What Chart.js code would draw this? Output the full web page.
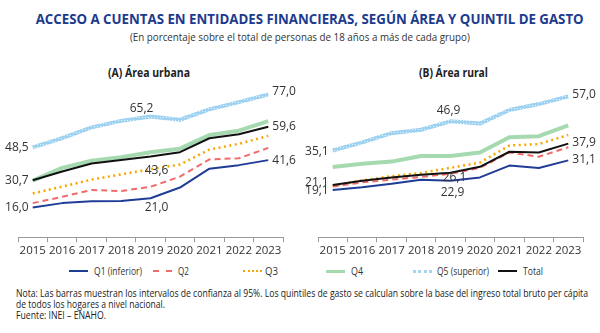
<!DOCTYPE html>
<html>
<head>
<meta charset="utf-8">
<script src="https://cdn.jsdelivr.net/npm/chart.js@4"></script>
<style>
  body { margin: 0; background: #fff; font-family: "Open Sans", sans-serif; color: #333; }
  #page { position: relative; width: 600px; height: 333px; overflow: hidden; }
  .t { position: absolute; white-space: nowrap; }
  #title { top: 8px; left: 0; width: 600px; text-align: center; font-weight: bold; font-size: 15px; color: #1c3a8e; }
  #sub { top: 29px; left: 0; width: 600px; text-align: center; font-size: 11px; color: #333; }
  .panel { top: 64px; font-weight: bold; font-size: 12px; color: #222; text-align: center; }
  .chartbox { position: absolute; top: 80px; width: 300px; height: 180px; }
  .lg { position: absolute; top: 263px; font-size: 11px; line-height: 16px; color: #333; }
  .sw { position: absolute; top: 270px; width: 19px; }
  .note { left: 16px; font-size: 11px; line-height: 14px; color: #222; }
</style>
</head>
<body>
<div id="page">
  <div class="t fit" id="title" data-w="548">ACCESO A CUENTAS EN ENTIDADES FINANCIERAS, SEGÚN ÁREA Y QUINTIL DE GASTO</div>
  <div class="t fit" id="sub" data-w="340">(En porcentaje sobre el total de personas de 18 años a más de cada grupo)</div>
  <div class="t panel fit" data-w="82" style="left:108px">(A) Área urbana</div>
  <div class="t panel fit" data-w="69" style="left:419px">(B) Área rural</div>
  <div class="chartbox" style="left:0"><canvas id="urbana"></canvas></div>
  <div class="chartbox" style="left:300px"><canvas id="rural"></canvas></div>

  <div class="sw" style="left:69px;border-top:2px solid #1f3d96"></div><div class="t lg fit" data-w="48" style="left:94px">Q1 (inferior)</div>
  <div class="sw" style="left:153px;border-top:2px dashed #f26b6b"></div><div class="t lg fit" data-w="11" style="left:178px">Q2</div>
  <div class="sw" style="left:243px;border-top:2px dotted #f7a800"></div><div class="t lg fit" data-w="13" style="left:265px">Q3</div>
  <div class="sw" style="left:326px;border-top:3px solid #a5d9b0"></div><div class="t lg fit" data-w="12" style="left:351px">Q4</div>
  <div class="sw" style="left:413px;border-top:3px dotted #a6d5f2"></div><div class="t lg fit" data-w="52" style="left:437px">Q5 (superior)</div>
  <div class="sw" style="left:498px;border-top:2px solid #111"></div><div class="t lg fit" data-w="20" style="left:523px">Total</div>

  <div class="t note fit" data-w="572" style="top:286px">Nota: Las barras muestran los intervalos de confianza al 95%. Los quintiles de gasto se calculan sobre la base del ingreso total bruto per cápita</div>
  <div class="t note fit" data-w="149" style="top:297px">de todos los hogares a nivel nacional.</div>
  <div class="t note fit" data-w="90" style="top:308px">Fuente: INEI – ENAHO.</div>
</div>
<script>
// datos
var years = ['2015', '2016', '2017', '2018', '2019', '2020', '2021', '2022', '2023'];

var urbQ1 = [16.0, 18.4, 19.4, 19.5, 21.0, 26.8, 37.0, 38.9, 41.6];
var urbQ2 = [18.4, 21.8, 25.5, 24.9, 27.2, 32.7, 42.0, 42.6, 48.2];
var urbQ3 = [23.6, 27.3, 31.1, 33.9, 36.7, 39.2, 47.3, 50.4, 54.7];
var urbQ4 = [30.5, 37.4, 41.3, 43.2, 45.9, 47.8, 55.2, 57.5, 62.7];
var urbQ5 = [48.5, 53.5, 59.3, 62.8, 65.2, 63.4, 69.0, 72.9, 77.0];
var urbTot = [30.7, 35.5, 39.8, 41.7, 43.6, 45.9, 53.4, 55.6, 59.6];

var rurQ1 = [19.1, 20.2, 21.6, 23.3, 22.9, 24.2, 29.0, 28.0, 31.1];
var rurQ2 = [20.5, 22.2, 23.3, 24.4, 25.7, 28.1, 34.3, 32.6, 36.4];
var rurQ3 = [20.8, 23.0, 24.7, 26.0, 28.1, 30.2, 37.1, 37.7, 41.4];
var rurQ4 = [28.4, 29.7, 30.6, 32.9, 32.9, 34.3, 40.5, 40.9, 45.3];
var rurQ5 = [35.1, 38.4, 42.1, 43.5, 46.9, 46.0, 51.5, 53.9, 57.0];
var rurTot = [21.1, 22.9, 24.2, 25.3, 26.1, 28.5, 34.6, 34.3, 37.9];

// ajustar ancho de textos (fuente original es condensada)
document.querySelectorAll('.fit').forEach(function (el) {
    var w = +el.dataset.w;
    var span = document.createElement('span');
    span.textContent = el.textContent;
    el.textContent = '';
    el.appendChild(span);
    span.style.display = 'inline-block';
    var real = span.getBoundingClientRect().width;
    span.style.transform = 'scaleX(' + (w / real) + ')';
    span.style.transformOrigin = (el.id === 'title' || el.id === 'sub') ? 'center' : 'left';
});

// patrón para Q5
function q5Pattern() {
    var c = document.createElement('canvas');
    c.width = 3; c.height = 3;
    var g = c.getContext('2d');
    g.fillStyle = '#9fd2f0';
    g.fillRect(0, 0, 3, 3);
    g.fillStyle = '#e6f4fc';
    g.fillRect(1, 1, 1, 1);
    return g.createPattern(c, 'repeat');
}

function fmt(v) { return v.toFixed(1).replace('.', ','); }

// etiquetas de valores
var valueLabels = {
    id: 'valueLabels',
    afterDatasetsDraw: function (chart, args, opts) {
        var ctx = chart.ctx;
        ctx.save();
        ctx.font = '12px "Open Sans"';
        ctx.fillStyle = '#333';
        ctx.textBaseline = 'middle';
        opts.items.forEach(function (it) {
            var pt = chart.getDatasetMeta(it.ds).data[it.i];
            var v = chart.data.datasets[it.ds].data[it.i];
            ctx.textAlign = it.pos === 'left' ? 'right' : it.pos === 'right' ? 'left' : 'center';
            var x = pt.x, y = pt.y;
            if (it.pos === 'left') x -= 4;
            if (it.pos === 'right') x += 4;
            ctx.fillText(fmt(v), x + (it.dx || 0), y + (it.dy || 0));
        });
        ctx.restore();
    }
};

function makeChart(id, d, max, labels) {
    var ctx = document.getElementById(id).getContext('2d');
    return new Chart(ctx, {
        type: 'line',
        data: {
            labels: years,
            datasets: [
                { label: 'Q1 (inferior)', data: d[0], borderColor: '#1f3d96', borderWidth: 2, order: 1 },
                { label: 'Q2', data: d[1], borderColor: '#f26b6b', borderWidth: 2, borderDash: [6, 4], order: 2 },
                { label: 'Q3', data: d[2], borderColor: '#f7a800', borderWidth: 2.5, borderDash: [2, 3.5], order: 3 },
                { label: 'Q4', data: d[3], borderColor: '#a5d9b0', borderWidth: 4, order: 4 },
                { label: 'Q5 (superior)', data: d[4], borderColor: q5Pattern(), borderWidth: 4, order: 5 },
                { label: 'Total', data: d[5], borderColor: '#111', borderWidth: 2, order: 0 }
            ]
        },
        options: {
            responsive: false,
            animation: false,
            layout: { padding: { left: 18, right: 17, top: 9, bottom: 0 } },
            elements: { point: { radius: 0 }, line: { tension: 0, borderJoinStyle: 'round' } },
            scales: {
                x: {
                    offset: true,
                    grid: { offset: true, drawOnChartArea: false, drawTicks: true, tickLength: 5, color: '#999' },
                    border: { display: true, color: '#999', width: 1 },
                    ticks: { color: '#333', padding: 2, autoSkip: false, font: { family: 'Open Sans', size: 11.5 }, maxRotation: 0 }
                },
                y: { display: false, min: 0, max: max }
            },
            plugins: {
                legend: { display: false },
                tooltip: { enabled: false },
                valueLabels: { items: labels }
            }
        },
        plugins: [valueLabels]
    });
}

// tamaño del canvas
['urbana', 'rural'].forEach(function (id) {
    var c = document.getElementById(id);
    c.width = 300; c.height = 180;
});

makeChart('urbana', [urbQ1, urbQ2, urbQ3, urbQ4, urbQ5, urbTot], 80, [
    { ds: 4, i: 0, pos: 'left' }, { ds: 4, i: 4, pos: 'above', dx: -9, dy: -8 }, { ds: 4, i: 8, pos: 'right', dy: -3 },
    { ds: 5, i: 0, pos: 'left' }, { ds: 5, i: 4, pos: 'below', dx: 6, dy: 14 }, { ds: 5, i: 8, pos: 'right', dy: 0 },
    { ds: 0, i: 0, pos: 'left' }, { ds: 0, i: 4, pos: 'below', dx: 6, dy: 9 }, { ds: 0, i: 8, pos: 'right', dy: 0 }
]);

makeChart('rural', [rurQ1, rurQ2, rurQ3, rurQ4, rurQ5, rurTot], 60, [
    { ds: 4, i: 0, pos: 'left', dy: 1 }, { ds: 4, i: 4, pos: 'above', dx: -2, dy: -11 }, { ds: 4, i: 8, pos: 'right', dy: -2 },
    { ds: 5, i: 0, pos: 'left', dy: -3 }, { ds: 5, i: 4, pos: 'below', dx: 4, dy: 5 }, { ds: 5, i: 8, pos: 'right', dy: -1 },
    { ds: 0, i: 0, pos: 'left', dy: 1 }, { ds: 0, i: 4, pos: 'below', dx: 2, dy: 12 }, { ds: 0, i: 8, pos: 'right', dy: -1 }
]);
</script>
</body>
</html>
